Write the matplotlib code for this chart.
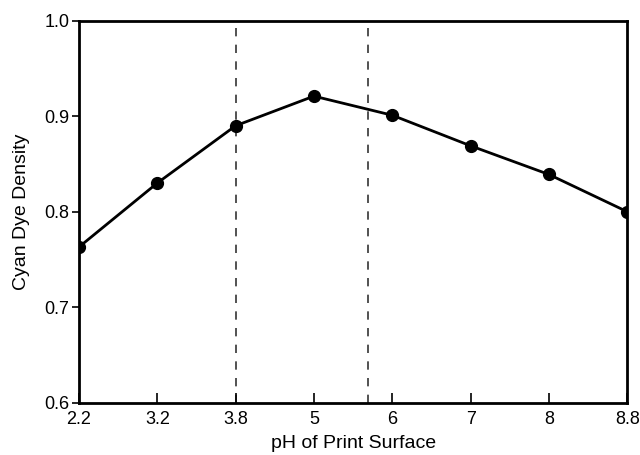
import numpy as np
import matplotlib.pyplot as plt

plt.rcParams['font.family'] = ['Liberation Sans', 'DejaVu Sans']

ph_labels = ['2.2', '3.2', '3.8', '5', '6', '7', '8', '8.8']
density = [0.763, 0.830, 0.890, 0.921, 0.901, 0.869, 0.839, 0.800]
# dashed guide lines, in category index units (3.8 and ~5.7)
guide_lines = [2.0, 3.685]

x = np.arange(len(ph_labels))

fig = plt.figure(figsize=(6.4, 4.55), dpi=100)
ax = fig.add_axes([0.1234, 0.115, 0.8566, 0.8395])

for g in guide_lines:
    ax.axvline(g, color='#333333', linestyle=(0, (5, 5)), linewidth=1.2, zorder=1)

ax.plot(x, density, color='black', linewidth=2, marker='o', markersize=8.5, zorder=3)

ax.set_xlim(0, len(ph_labels) - 1)
ax.set_ylim(0.6, 1.0)
ax.set_xticks(x)
ax.set_xticklabels(ph_labels)
ax.set_yticks([0.6, 0.7, 0.8, 0.9, 1.0])
ax.set_yticklabels(['0.6', '0.7', '0.8', '0.9', '1.0'])
ax.tick_params(axis='x', direction='in', length=7, width=1.2, labelsize=13, pad=6)
ax.tick_params(axis='y', direction='out', length=5, width=1.2, labelsize=13, pad=2)
for s in ax.spines.values():
    s.set_linewidth(2)

ax.set_xlabel('pH of Print Surface', fontsize=14, labelpad=5)
ax.set_ylabel('Cyan Dye Density', fontsize=14, labelpad=10)

fig.savefig('out.png', dpi=100)
